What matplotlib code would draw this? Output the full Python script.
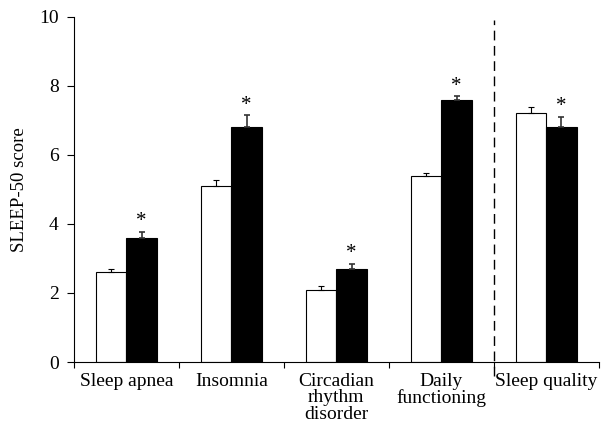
import numpy as np
import matplotlib.pyplot as plt

plt.rcParams['font.family'] = ['Liberation Serif', 'DejaVu Serif']

categories = ['Sleep apnea', 'Insomnia', 'Circadian\nrhythm\ndisorder',
              'Daily\nfunctioning', 'Sleep quality']
white_vals = [2.6, 5.1, 2.1, 5.4, 7.2]
white_err = [0.1, 0.17, 0.1, 0.07, 0.2]
black_vals = [3.6, 6.8, 2.7, 7.6, 6.8]
black_err = [0.17, 0.35, 0.15, 0.1, 0.3]

fig = plt.figure(figsize=(6.06, 4.32), dpi=100)
ax = fig.add_axes([0.122, 0.162, 0.866, 0.799])

centers = np.arange(len(categories)) + 0.5
w = 0.29

ax.bar(centers - w / 2, white_vals, w, color='white', edgecolor='black', linewidth=0.8,
       yerr=[np.zeros(5), white_err], error_kw=dict(ecolor='black', elinewidth=0.8, capsize=2, capthick=0.8))
ax.bar(centers + w / 2, black_vals, w, color='black', edgecolor='black', linewidth=0.8,
       yerr=[np.zeros(5), black_err], error_kw=dict(ecolor='#333333', elinewidth=1.2, capsize=2, capthick=1.2))

# significance marks
for x, v, e in zip(centers + w / 2, black_vals, black_err):
    ax.text(x, v + e + 0.02, '*', ha='center', va='bottom', fontsize=15)

# separator between subscales and sleep quality
ax.axvline(4, ymin=-0.04, ymax=0.99, color='black', linestyle=(0, (7, 4)),
           linewidth=1, clip_on=False)

ax.set_xlim(0, 5)
ax.set_ylim(0, 10)
ax.set_yticks(np.arange(0, 11, 2))
ax.set_xticks(np.arange(0, 6))
ax.set_xticklabels([])
ax.set_xticks(centers, minor=True)
ax.set_xticklabels(categories, minor=True, fontsize=14, linespacing=0.95)
ax.tick_params(axis='x', which='minor', length=0, pad=8)
ax.tick_params(axis='x', which='major', length=4, direction='out')
ax.tick_params(axis='y', length=5, direction='out', labelsize=14, pad=6)
ax.set_ylabel('SLEEP-50 score', fontsize=13.5, labelpad=8)

for s in ['top', 'right']:
    ax.spines[s].set_visible(False)

plt.savefig('out.png', dpi=100)
